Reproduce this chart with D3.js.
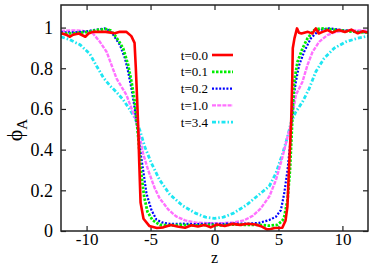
<!DOCTYPE html>
<html><head><meta charset="utf-8">
<script src="https://cdn.jsdelivr.net/npm/d3@7"></script>
<style>body{margin:0;background:#fff}svg{display:block}</style>
</head><body>
<script>
// ---- data ----
const seriesLabels = ["t=0.0","t=0.1","t=0.2","t=1.0","t=3.4"];
const xTicks = [-10,-5,0,5,10];
const yTicks = [0,0.2,0.4,0.6,0.8,1];
const yTickLabels = ["0","0.2","0.4","0.6","0.8","1"];

const zT00 = [-12,-11.6,-11.3,-11.05,-10.6,-10.1,-9.85,-9.5,-8.5,-7.8,-7.4,-6.9,-6.5,-6.25,-6.15,-6.05,-5.97,-5.88,-5.78,-5.55,-5.1,-4.5,-4.0,-3.4,-2.9,-2.3,-1.8,-1.3,-0.8,-0.3,0.2,0.8,1.4,2.0,2.6,3.2,3.7,4.1,4.4,4.7,5.3,5.55,5.7,5.84,5.93,6.0,6.08,6.12,6.25,6.45,6.6,6.8,7.3,7.65,7.92,8.15,8.45,8.85,9.2,9.7,10.2,10.7,11.2,11.6,12];
const phiT00 = [0.972,0.965,0.955,0.965,0.971,0.955,0.971,0.979,0.979,0.972,0.979,0.979,0.958,0.925,0.80,0.65,0.52,0.33,0.14,0.06,0.025,0.015,0.018,0.03,0.022,0.016,0.028,0.022,0.03,0.018,0.032,0.025,0.035,0.03,0.036,0.032,0.022,0.008,0.01,0.015,0.016,0.05,0.12,0.33,0.45,0.55,0.75,0.898,0.947,0.996,0.975,0.971,0.979,0.971,0.996,0.971,0.979,0.988,0.975,0.988,0.978,0.99,0.972,0.982,0.976];

const zT01 = [-12,-11,-10,-9.2,-8.5,-8.1,-7.8,-7.45,-7.14,-6.75,-6.49,-6.23,-6.05,-5.94,-5.76,-5.5,-5.24,-4.85,-4.28,-3.5,-2.5,-1.5,-0.5,0.5,1.5,2.5,3.5,4.28,4.9,5.3,5.45,5.71,5.9,6.02,6.1,6.23,6.49,6.88,7.27,7.79,8.3,9.0,9.5,10.5,11.2,12];
const phiT01 = [0.97,0.972,0.978,0.988,0.993,0.985,0.963,0.93,0.898,0.816,0.734,0.635,0.52,0.447,0.30,0.169,0.095,0.054,0.03,0.028,0.03,0.027,0.03,0.028,0.032,0.03,0.03,0.026,0.03,0.05,0.07,0.152,0.30,0.46,0.57,0.734,0.832,0.898,0.947,0.988,0.996,0.992,0.988,0.982,0.978,0.976];

const zT02 = [-12,-11,-10,-9.2,-8.6,-8.2,-7.9,-7.39,-7.0,-6.75,-6.49,-6.23,-6.02,-5.82,-5.58,-5.32,-4.93,-4.54,-4.1,-3.5,-2.5,-1.5,-0.5,0.5,1.5,2.5,3.5,4.28,4.8,5.19,5.45,5.71,5.97,6.10,6.36,6.62,7.0,7.53,8.18,8.95,10,11,12];
const phiT02 = [0.976,0.976,0.982,0.99,0.996,0.985,0.963,0.914,0.849,0.783,0.70,0.60,0.50,0.40,0.30,0.185,0.103,0.056,0.042,0.035,0.036,0.034,0.036,0.035,0.037,0.036,0.04,0.054,0.07,0.103,0.185,0.30,0.463,0.62,0.734,0.816,0.88,0.947,0.988,0.996,0.988,0.98,0.976];

const zT10 = [-12,-11,-10.3,-9.5,-8.96,-8.43,-8.05,-7.66,-7.27,-6.88,-6.49,-6.1,-5.84,-5.58,-5.19,-4.67,-4.28,-3.6,-3.0,-2.3,-1.5,-0.5,0.5,1.5,2.3,3.0,3.6,4.28,4.8,5.32,5.71,5.97,6.36,6.88,7.27,7.66,8.18,8.82,9.48,10.5,11.3,12];
const phiT10 = [0.984,0.986,0.984,0.971,0.93,0.88,0.816,0.75,0.709,0.668,0.603,0.537,0.463,0.38,0.30,0.21,0.16,0.105,0.072,0.052,0.042,0.038,0.038,0.042,0.052,0.075,0.11,0.169,0.25,0.365,0.463,0.52,0.668,0.734,0.816,0.88,0.93,0.963,0.979,0.986,0.986,0.985];

const zT34 = [-12,-11.3,-10.5,-9.74,-9.21,-8.7,-8.18,-7.66,-7.14,-6.62,-6.23,-6.0,-5.84,-5.45,-4.93,-4.28,-3.5,-2.5,-1.5,-0.7,0,0.7,1.5,2.5,3.5,4.28,4.8,5.32,5.71,5.97,6.36,6.88,7.4,7.92,8.57,9.35,10.26,11.16,12];
const phiT34 = [0.955,0.94,0.915,0.87,0.81,0.755,0.715,0.683,0.645,0.597,0.556,0.52,0.496,0.414,0.333,0.25,0.18,0.125,0.088,0.068,0.062,0.068,0.088,0.128,0.18,0.22,0.284,0.38,0.463,0.53,0.586,0.635,0.70,0.783,0.849,0.898,0.93,0.947,0.958];

const zData = [zT00,zT01,zT02,zT10,zT34];
const phiData = [phiT00,phiT01,phiT02,phiT10,phiT34];

// ---- styles ----
const styles = [
  {color:"#ff0000", width:2.6, dash:null},
  {color:"#00ee00", width:2.8, dash:"2.5,1.5"},
  {color:"#0000ff", width:2.2, dash:"2,1.6"},
  {color:"#ff70ff", width:2.4, dash:"4,1.2"},
  {color:"#1ee6f2", width:2.8, dash:"4,2,1.5,2"}
];

const W=382,H=267;
const m={left:61,right:368,top:5,bottom:231};
const svg=d3.select("body").append("svg").attr("width",W).attr("height",H);
svg.append("rect").attr("width",W).attr("height",H).attr("fill","#fff");

const x=d3.scaleLinear().domain([-12,12]).range([m.left,m.right]);
const y=d3.scaleLinear().domain([0,1.111]).range([m.bottom,m.top]);

const font="'Liberation Serif','Times New Roman',serif";
const axColor="#222";

// ticks inward on all 4 sides
const gB=svg.append("g").attr("transform",`translate(0,${m.bottom})`)
  .call(d3.axisBottom(x).tickValues(xTicks).tickSize(-5).tickPadding(2).tickFormat(d3.format("d")));
const gT=svg.append("g").attr("transform",`translate(0,${m.top})`)
  .call(d3.axisTop(x).tickValues(xTicks).tickSize(-5).tickFormat(""));
const gL=svg.append("g").attr("transform",`translate(${m.left},0)`)
  .call(d3.axisLeft(y).tickValues(yTicks).tickSize(-5).tickPadding(8).tickFormat((d,i)=>yTickLabels[i]));
const gR=svg.append("g").attr("transform",`translate(${m.right},0)`)
  .call(d3.axisRight(y).tickValues(yTicks).tickSize(-5).tickFormat(""));
[gB,gT,gL,gR].forEach(g=>{
  g.attr("font-family",font);
  g.select(".domain").remove();
  g.selectAll(".tick line").attr("stroke",axColor).attr("stroke-width",1.2);
  g.selectAll("text").attr("font-family",font).attr("font-size",18).attr("fill","#000");
});
gB.selectAll("text").attr("font-size",17).text(d=>d<0?"-"+Math.abs(d):d);

// curves
const clipId="plotclip";
svg.append("clipPath").attr("id",clipId).append("rect")
  .attr("x",m.left).attr("y",m.top).attr("width",m.right-m.left).attr("height",m.bottom-m.top);
const line=d3.line().x(d=>x(d[0])).y(d=>y(d[1]));
const gC=svg.append("g").attr("clip-path",`url(#${clipId})`);
for(let i=zData.length-1;i>=0;i--){
  const pts=zData[i].map((z,k)=>[z,phiData[i][k]]);
  const p=gC.append("path").datum(pts).attr("d",line).attr("fill","none")
    .attr("stroke",styles[i].color).attr("stroke-width",styles[i].width)
    .attr("stroke-linejoin","round");
  if(styles[i].dash) p.attr("stroke-dasharray",styles[i].dash);
}

// frame
svg.append("rect").attr("x",m.left).attr("y",m.top).attr("width",m.right-m.left).attr("height",m.bottom-m.top)
  .attr("fill","none").attr("stroke",axColor).attr("stroke-width",1.5);

// legend
const legY0=55, legDy=16.8;
seriesLabels.forEach((lab,i)=>{
  const yy=legY0+i*legDy;
  svg.append("text").attr("x",208).attr("y",yy+4.5).attr("text-anchor","end")
    .attr("font-family",font).attr("font-size",13).text(lab);
  const l=svg.append("line").attr("x1",212).attr("x2",233).attr("y1",yy).attr("y2",yy)
    .attr("stroke",styles[i].color).attr("stroke-width",styles[i].width);
  if(styles[i].dash) l.attr("stroke-dasharray",styles[i].dash);
});

// axis labels
svg.append("text").attr("x",x(0)).attr("y",263.3).attr("text-anchor","middle")
  .attr("font-family",font).attr("font-size",16).text("z");
const yl=svg.append("text").attr("transform",`translate(22,${(m.top+m.bottom)/2+12}) rotate(-90)`)
  .attr("text-anchor","middle").attr("font-family",font).attr("font-size",22);
yl.append("tspan").text("ϕ");
yl.append("tspan").attr("font-size",15).attr("dy",5).text("A");
</script>
</body></html>
